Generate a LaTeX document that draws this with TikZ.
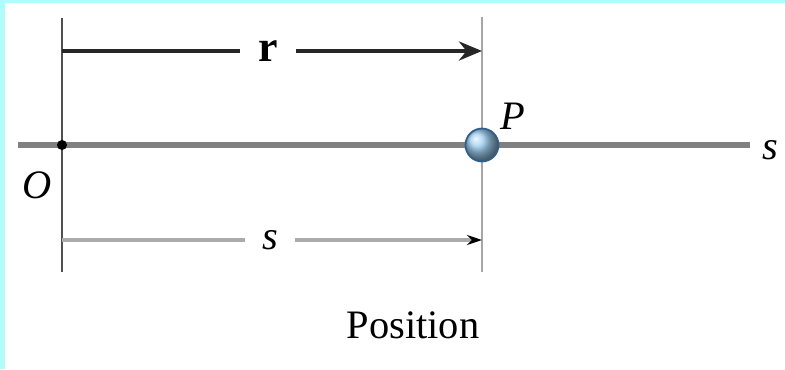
\documentclass[tikz,border=0pt]{standalone}
\usepackage{fontspec}
\setmainfont{Liberation Serif}
\usetikzlibrary{arrows.meta,calc,positioning,shadings}
\definecolor{FigInk}{HTML}{262626}
\definecolor{FigAxis}{HTML}{808080}
\definecolor{FigDim}{HTML}{ABABAB}
\definecolor{FigGuideDark}{HTML}{505050}
\definecolor{FigGuideLight}{HTML}{A6A6A6}
\definecolor{FigBall}{HTML}{9CCDF0}
\definecolor{FigBallRim}{HTML}{2F5F8C}
\definecolor{FigFrame}{HTML}{AEFCFC}
\tikzset{
  every node/.style={font=\fontsize{23}{26}\selectfont, text=black},
  axis/.style={draw=FigAxis, line width=3.4pt},
  guide/.style={line width=1.4pt},
  vector/.style={-{Stealth[length=4.6mm,width=3.8mm]}, draw=FigInk, line width=2.3pt},
  vectorbar/.style={draw=FigInk, line width=2.3pt},
  dimension/.style={-{Stealth[length=3mm,width=2mm,color=black]}, draw=FigDim, line width=2.4pt},
  dimensionbar/.style={draw=FigDim, line width=2.4pt},
  particle/.style={circle, minimum size=0.66cm, inner sep=0pt, draw=FigBallRim, line width=1pt, shading=ball, ball color=FigBall},
  italic/.style={font=\fontsize{23}{26}\selectfont\itshape},
}

\begin{document}
\begin{tikzpicture}[x=0.02cm,y=-0.02cm]
  % frame and margins
  \useasboundingbox (0,0) rectangle (785,369);
  \fill[white] (0,0) rectangle (785,369);
  \fill[FigFrame] (0,0) rectangle (785,3);
  \fill[FigFrame] (0,0) rectangle (5,369);
  % guide lines through O and P
  \coordinate (Otop) at (62,18);
  \coordinate (Obot) at (62,272);
  \coordinate (Ptop) at (482,17);
  \coordinate (Pbot) at (482,272);
  \draw[guide, FigGuideDark] (Otop) -- (Obot);
  \draw[guide, FigGuideLight] (Ptop) -- (Pbot);
  % s axis
  \coordinate (axisL) at (18,145);
  \coordinate (axisR) at (750,145);
  \draw[axis] (axisL) -- (axisR);
  \node[italic] (saxis) at (770,150) {s};
  % origin O
  \coordinate (O) at (62,145);
  \fill[black] (O) circle (5);
  \node[italic] (Olabel) at (37,185) {O};
  % particle P
  \node[particle] (P) at (482,145) {};
  \node[italic] (Plabel) at (513,116) {P};
  % position vector r
  \coordinate (rL) at (62,51);
  \coordinate (rR) at (482,51);
  \node[font=\fontsize{25}{28}\selectfont\bfseries, minimum width=1.1cm, inner sep=0pt] (r) at (268,51) {r};
  \draw[vectorbar] (rL) -- (r);
  \draw[vector] (r) -- (rR);
  % distance s
  \coordinate (sL) at (62,240);
  \coordinate (sR) at (482,240);
  \node[italic, minimum width=1.0cm, inner sep=0pt] (s) at (270,240) {s};
  \draw[dimensionbar] (sL) -- (s);
  \draw[dimension] (s) -- (sR);
  % caption
  \node (caption) at (413,325) {Position};
\end{tikzpicture}
\end{document}
